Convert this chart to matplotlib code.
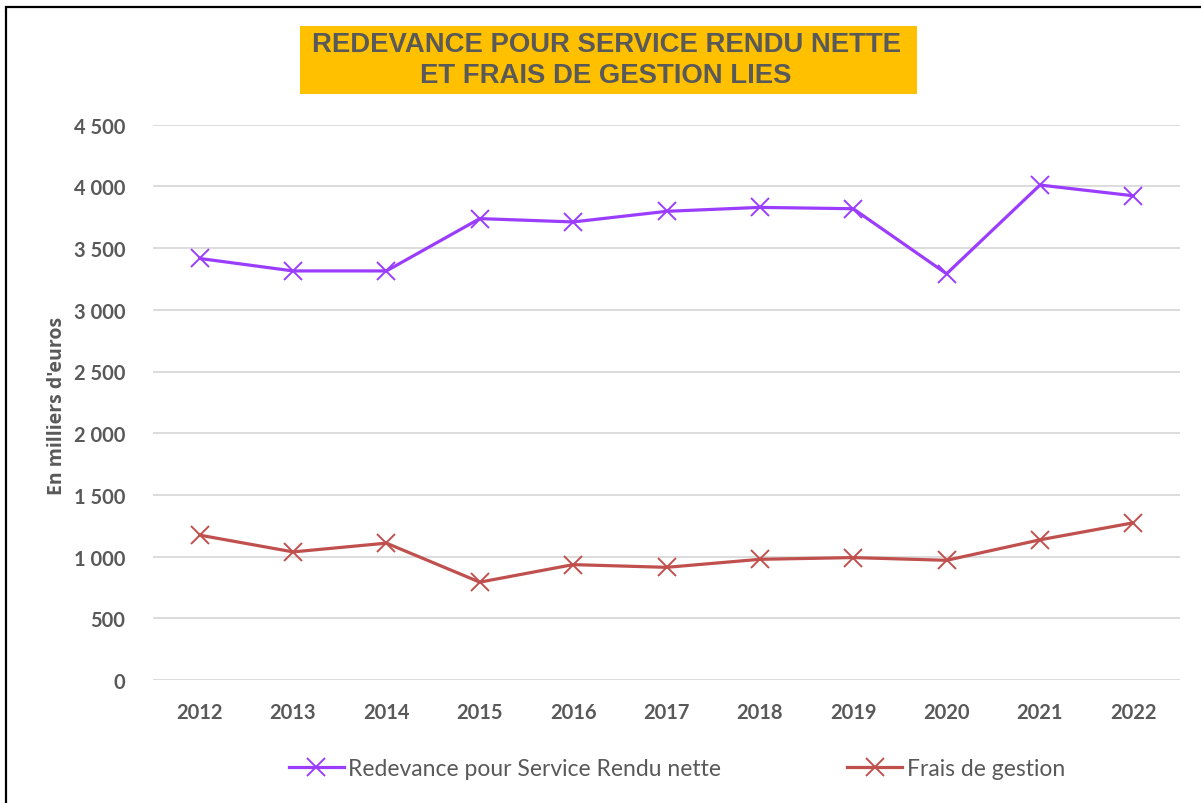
import matplotlib
matplotlib.use("Agg")
import matplotlib.pyplot as plt
from matplotlib.patches import Rectangle
from matplotlib.ticker import FuncFormatter, MultipleLocator

# Data (in milliers d'euros)
years = ["2012", "2013", "2014", "2015", "2016", "2017",
         "2018", "2019", "2020", "2021", "2022"]
redevance = [3416, 3315, 3315, 3739, 3712, 3798, 3830, 3819, 3292, 4011, 3924]
frais = [1174, 1038, 1109, 793, 935, 913, 978, 992, 970, 1136, 1274]

title_lines = ["REDEVANCE POUR SERVICE RENDU NETTE", "ET FRAIS DE GESTION LIES"]
label_redevance = "Redevance pour Service Rendu nette"
label_frais = "Frais de gestion"
ylabel = "En milliers d'euros"

_GREY = "#595959"
_PURPLE = "#9B3DFF"
_RED = "#C0504D"
_GRID = "#D9D9D9"
_W, _H = 1201, 804


def _fx(px):
    return px / _W


def _fy(py):
    return 1 - py / _H


fig = plt.figure(figsize=(_W / 100, _H / 100), dpi=100)
fig.patch.set_facecolor("white")

# outer frame (only left and top edges visible in the reference)
fig.patches.append(Rectangle((_fx(6), -0.1), 1.2, _fy(8) + 0.1,
                             transform=fig.transFigure, fill=False,
                             edgecolor="black", linewidth=1.6))

ax = fig.add_axes([_fx(153), _fy(681), _fx(1180) - _fx(153), _fy(125.7) - _fy(681)])

x = list(range(len(years)))
ax.plot(x, redevance, color=_PURPLE, linewidth=2.3, marker="x",
        markersize=13, markeredgewidth=1.4, label=label_redevance)
ax.plot(x, frais, color=_RED, linewidth=2.3, marker="x",
        markersize=13, markeredgewidth=1.4, label=label_frais)

ax.set_xlim(-0.5, len(years) - 0.5)
ax.set_ylim(0, 4500)
ax.yaxis.set_major_locator(MultipleLocator(500))
ax.yaxis.set_major_formatter(FuncFormatter(lambda v, _: f"{int(v):,}".replace(",", " ")))
ax.set_xticks(x)
ax.set_xticklabels(years)

ax.grid(axis="y", color=_GRID, linewidth=1.3)
ax.set_axisbelow(True)
for side in ["top", "right", "left", "bottom"]:
    ax.spines[side].set_visible(False)
ax.tick_params(axis="both", length=0, colors=_GREY)
ax.tick_params(axis="y", pad=20)
ax.tick_params(axis="x", pad=16)
for lbl in ax.get_xticklabels() + ax.get_yticklabels():
    lbl.set_fontfamily("Lato")
    lbl.set_fontweight("bold")
    lbl.set_fontsize(14.5)

fig.text(_fx(57), _fy(406), ylabel, rotation=90, ha="center", va="center",
         color=_GREY, fontsize=14, fontweight="bold", family="Open Sans")

# title box
fig.patches.append(Rectangle((_fx(300), _fy(95)), _fx(917) - _fx(300), _fy(27) - _fy(95),
                             transform=fig.transFigure, facecolor="#FFC000",
                             edgecolor="none"))
fig.text(_fx(606), _fy(45), title_lines[0], ha="center", va="center",
         color=_GREY, fontsize=19.8, fontweight="bold", family="Liberation Sans")
fig.text(_fx(606), _fy(76), title_lines[1], ha="center", va="center",
         color=_GREY, fontsize=19.8, fontweight="bold", family="Liberation Sans")

leg = fig.legend(loc="center", bbox_to_anchor=(_fx(677), _fy(770)), ncol=2,
                 frameon=False, columnspacing=5.5, handlelength=2.4,
                 handletextpad=0.2, prop={"family": "Lato", "size": 16.5})
for t in leg.get_texts():
    t.set_color(_GREY)

fig.savefig("out.png", dpi=100)
